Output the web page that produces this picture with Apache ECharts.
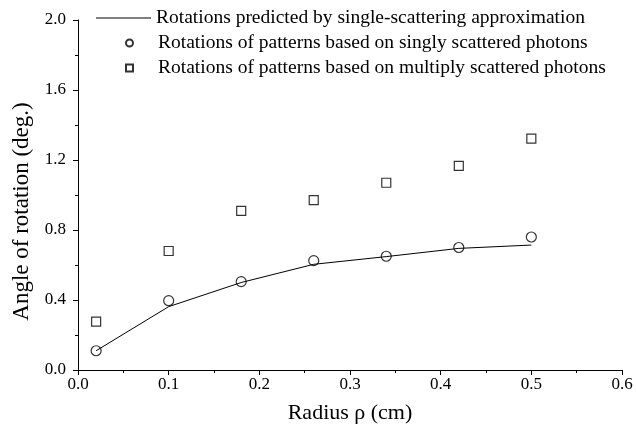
<!DOCTYPE html>
<html><head><meta charset="utf-8">
<script src="https://cdn.jsdelivr.net/npm/echarts@6/dist/echarts.min.js"></script>
<style>html,body{margin:0;padding:0;background:#fff}#c{width:636px;height:432px}</style>
</head><body><div id="c"></div>
<script>
const radius = [0.02, 0.10, 0.18, 0.26, 0.34, 0.42, 0.50];
const predicted = [0.11, 0.362, 0.50, 0.604, 0.648, 0.695, 0.714];
const singly = [0.11, 0.396, 0.505, 0.625, 0.65, 0.70, 0.76];
const multiply = [0.276, 0.68, 0.909, 0.971, 1.07, 1.167, 1.322];
const names = [
  'Rotations predicted by single-scattering approximation',
  'Rotations of patterns based on singly scattered photons',
  'Rotations of patterns based on multiply scattered photons'
];
const pairs = (xs, ys) => xs.map((x, i) => [x, ys[i]]);
const font = 'Liberation Serif';
const chart = echarts.init(document.getElementById('c'));
const legendText = {fontFamily: font, fontSize: 19.5, color: '#000'};
chart.setOption({
  animation: false,
  backgroundColor: '#fff',
  grid: {left: 78, right: 14, top: 20, bottom: 62},
  legend: [
    {data: [{name: names[0], icon: 'rect'}], left: 91, top: 3, itemWidth: 55, itemHeight: 1,
     itemStyle: {color: '#000', borderWidth: 0}, textStyle: legendText},
    {data: [names[1]], left: 120, top: 28, itemWidth: 7, itemHeight: 7,
     textStyle: Object.assign({padding: [0, 0, 0, 20]}, legendText)},
    {data: [names[2]], left: 120, top: 53, itemWidth: 7, itemHeight: 7,
     textStyle: Object.assign({padding: [0, 0, 0, 20]}, legendText)}
  ],
  xAxis: {
    type: 'value', min: 0, max: 0.6, interval: 0.1,
    name: 'Radius ρ (cm)', nameLocation: 'middle', nameGap: 32,
    nameTextStyle: {fontFamily: font, fontSize: 22, color: '#000'},
    axisLine: {show: true, onZero: false, lineStyle: {color: '#000', width: 1}},
    axisTick: {show: true, inside: false, length: 5, lineStyle: {color: '#000'}},
    minorTick: {show: true, splitNumber: 2, length: 3, lineStyle: {color: '#000'}},
    splitLine: {show: false},
    axisLabel: {fontFamily: font, fontSize: 17, color: '#000', margin: 6, formatter: v => v.toFixed(1)}
  },
  yAxis: {
    type: 'value', min: 0, max: 2.0, interval: 0.4,
    name: 'Angle of rotation (deg.)', nameLocation: 'middle', nameGap: 42,
    nameTextStyle: {fontFamily: font, fontSize: 23, color: '#000', padding: [0, 33, 0, 0]},
    axisLine: {show: true, lineStyle: {color: '#000', width: 1}},
    axisTick: {show: true, inside: false, length: 5, lineStyle: {color: '#000'}},
    minorTick: {show: true, splitNumber: 2, length: 3, lineStyle: {color: '#000'}},
    splitLine: {show: false},
    axisLabel: {fontFamily: font, fontSize: 17, color: '#000', margin: 12, formatter: v => v.toFixed(1)}
  },
  series: [
    {name: names[0], type: 'line', data: pairs(radius, predicted), symbol: 'none',
     lineStyle: {color: '#000', width: 1}, itemStyle: {color: '#000'}},
    {name: names[1], type: 'scatter', data: pairs(radius, singly), symbol: 'circle', symbolSize: 10,
     itemStyle: {color: '#fff', borderColor: '#000', borderWidth: 1.2}},
    {name: names[2], type: 'scatter', data: pairs(radius, multiply), symbol: 'rect', symbolSize: 9,
     itemStyle: {color: '#fff', borderColor: '#000', borderWidth: 1.2}}
  ]
});
</script></body></html>
